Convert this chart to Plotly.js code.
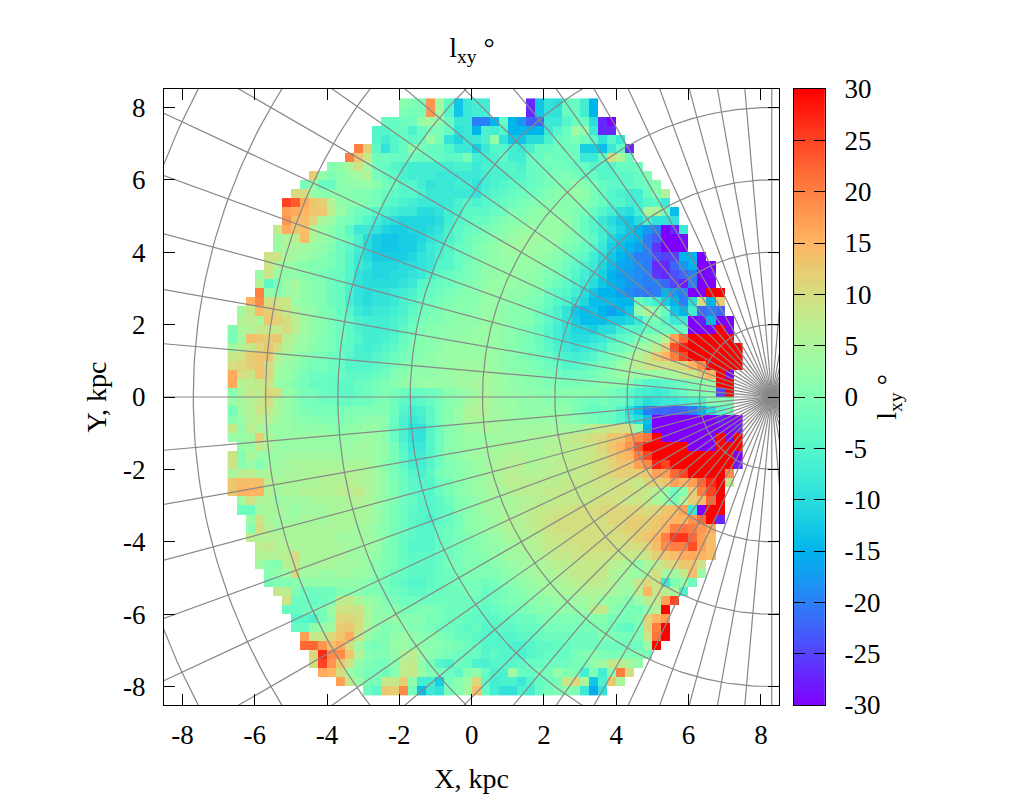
<!DOCTYPE html>
<html>
<head>
<meta charset="utf-8">
<script src="https://cdn.plot.ly/plotly-3.0.1.min.js"></script>
<style>
  html, body { margin: 0; padding: 0; background: #fff; }
  #chart { width: 1024px; height: 800px; }
</style>
</head>
<body>
<div id="chart"></div>
<script>
// Axis and colour bar ticks
const axisTicks = [-8, -6, -4, -2, 0, 2, 4, 6, 8];
const axisLabels = ["-8", "-6", "-4", "-2", "0", "2", "4", "6", "8"];
const barTicks = [-30, -25, -20, -15, -10, -5, 0, 5, 10, 15, 20, 25, 30];
const barLabels = ["-30", "-25", "-20", "-15", "-10", "-5", "0", "5", "10", "15", "20", "25", "30"];

// Polar grid around the Galactic centre
const centreX = 8.3;
const gridRadii = [2, 4, 6, 8, 10, 12, 14, 16, 18];
const gridAngleStep = 5;

// Cell layout of the map: 0.25 kpc bins
const cellSize = 0.25;
const firstCellX = -6.625;
const firstCellY = 8.125;
const columnCount = 57;

// First filled column of every row, top row first
const rowStart = [
  19, 19, 17, 16, 16, 14, 13, 11, 9, 8, 7, 6, 6, 6, 5, 5, 5, 4, 4, 3, 3, 3,
  2, 1, 1, 0, 0, 0, 0, 0, 0, 0, 0, 0, 0, 0, 0, 0, 1, 0, 0, 0, 0, 0,
  1, 1, 2, 2, 2, 3, 3, 3, 4, 4, 5, 6, 6, 7, 7, 8, 8, 9, 9, 10, 12, 15
];

// Mean l_xy per cell, degrees
const rowValues = [
  [1,0,-1,18,4,-4,-13,-8,-7,-7,null,null,null,null,-27,-13,-9,-10,-3,-3,-7,-15],
  [0,-1,-1,18,4,-5,-13,-8,-7,-7,null,null,null,null,-27,-13,-9,-9,-3,-3,-7,-15],
  [-3,-3,-2,-2,3,4,2,-3,-8,-8,-20,-20,-15,-3,-15,-18,-23,-22,-8,-8,-5,-3,-3,-10,-27,-30],
  [-5,-5,-3,-3,-6,-3,-1,-1,-3,-9,-8,-15,-6,-7,-5,-15,-15,-15,-15,-8,-5,-3,4,2,-8,-27,-27],
  [-5,-7,-5,-3,-4,-3,3,-1,-9,-11,-8,-8,-6,2,-9,-13,-13,-10,-10,-6,-3,-2,0,-2,-4,-9,-5,-8],
  [20,12,-4,-9,-5,-3,1,-1,-3,-3,-5,-8,-8,-12,-8,-5,-5,-7,-8,-6,-3,-3,-2,-2,-2,-12,-12,-14,-8,-4,-27],
  [20,13,8,-2,-2,-3,-3,-2,-3,-3,-3,-4,-4,-1,-7,-7,-6,-4,-7,-7,-3,-3,-1,-2,-2,-2,-8,-8,-4,10,5,-2],
  [1,2,5,9,4,-2,-3,-5,-6,-7,-7,-7,-7,-7,-6,-6,-8,-6,-6,-5,-5,-6,-3,-2,-2,-1,-2,-3,-3,-5,-5,-5,-3,-3,-2],
  [12,2,0,1,3,4,6,-1,-3,-4,-6,-7,-7,-7,-8,-8,-8,-8,-8,-7,-6,-6,-5,-5,-3,-2,-1,-1,0,-1,-3,-3,-5,-5,-4,-4,-3,0],
  [-1,2,-3,-3,1,2,2,3,1,-1,-3,-5,-5,-7,-9,-8,-8,-7,-7,-9,-7,-6,-5,-4,-4,-3,-2,-1,0,0,2,1,-1,-3,-4,-4,-4,-3,-2,1],
  [10,10,3,1,1,1,1,0,0,-1,-3,-4,-5,-5,-6,-8,-8,-8,-8,-8,-9,-6,-5,-4,-3,-2,-2,-1,0,1,2,3,2,-1,-3,-5,-6,-7,-7,-3,0,6],
  [25,23,16,13,12,6,2,1,1,0,-1,-4,-5,-6,-7,-8,-8,-8,-8,-6,-5,-6,-5,-4,-3,-2,-1,0,0,1,1,1,1,1,-1,-3,-5,-5,-7,-7,-5,-4,-8],
  [17,16,15,13,13,7,3,0,-2,-3,-5,-6,-7,-8,-8,-10,-10,-9,-7,-6,-4,-4,-4,-3,-2,0,0,1,2,2,2,1,0,-1,-3,-5,-7,-9,-10,-7,5,5,-2,-14],
  [18,14,14,11,5,3,0,-1,-3,-5,-7,-9,-10,-11,-11,-11,-11,-10,-7,-5,-4,-3,-3,-1,0,1,1,2,2,3,3,2,0,-3,-5,-8,-10,-12,-13,-10,-6,-9,-9,-9],
  [8,16,13,14,6,3,1,-1,-4,-8,-8,-9,-11,-12,-12,-11,-11,-10,-9,-6,-4,-3,-2,-1,0,1,2,3,3,3,3,3,2,0,-3,-5,-7,-9,-11,-13,-15,-18,-20,-30,-27,-8],
  [4,5,7,14,5,3,1,-1,-3,-6,-10,-12,-13,-13,-12,-12,-11,-9,-8,-6,-4,-2,-1,0,1,2,3,4,4,4,3,3,1,0,-2,-4,-7,-11,-13,-14,-15,-20,-23,-30,-30,-29],
  [3,5,5,4,3,2,0,-2,-4,-7,-10,-12,-13,-13,-12,-12,-10,-8,-7,-5,-3,-2,0,1,2,3,4,4,4,3,3,2,0,-1,-3,-5,-8,-12,-14,-15,-17,-20,-26,-30,-30,-30],
  [9,9,5,4,3,2,1,-1,-2,-5,-8,-10,-12,-12,-12,-12,-11,-9,-8,-6,-5,-3,-2,0,1,2,3,3,3,3,3,2,1,-1,-3,-4,-7,-10,-13,-15,-17,-20,-20,-24,-25,-25,-15,-15,-30],
  [9,5,3,2,1,0,0,-1,-2,-5,-8,-9,-11,-11,-11,-10,-10,-9,-8,-5,-5,-3,-1,0,2,2,3,3,3,3,2,1,0,-2,-4,-6,-8,-11,-14,-16,-17,-19,-20,-27,-27,-22,-18,-15,-30,-30],
  [3,9,3,2,2,1,0,-1,-2,-3,-5,-9,-10,-11,-11,-10,-10,-9,-8,-6,-4,-3,-2,-1,0,2,2,3,3,3,2,1,0,-1,-3,-5,-7,-9,-12,-15,-17,-18,-19,-20,-26,-27,-24,-22,-20,-30,-29],
  [6,-4,-1,3,5,2,1,0,-2,-3,-6,-9,-10,-10,-10,-10,-9,-8,-5,-4,-3,-2,-1,0,1,2,3,3,3,2,2,1,-1,-2,-4,-6,-8,-10,-13,-15,-16,-18,-19,-20,-20,-22,-25,-28,-20,-30,-30],
  [20,2,1,3,4,2,1,0,-2,-3,-6,-9,-10,-9,-9,-8,-7,-6,-4,-3,-2,-1,0,1,1,3,3,3,2,2,1,0,-2,-4,-5,-7,-10,-13,-15,-15,-17,-19,-20,-21,-20,-15,-18,-20,-30,-30,30,30],
  [15,19,10,9,9,3,2,1,0,-2,-3,-7,-9,-10,-9,-9,-8,-6,-5,-3,-2,-1,0,1,1,1,3,3,2,2,1,0,-1,-3,-5,-6,-9,-11,-14,-14,-14,-15,-15,-2,-5,-7,-12,-15,-20,-10,10,-15,12],
  [4,8,14,12,11,8,5,3,2,0,-1,-3,-5,-8,-9,-8,-8,-7,-6,-4,-2,-1,0,1,1,1,2,3,3,2,1,1,0,-2,-4,-6,-9,-13,-14,-13,-15,-17,-15,-13,2,6,1,-3,-13,-15,-7,-22,-20,-22],
  [6,7,5,13,12,10,7,4,2,1,-1,-2,-4,-6,-7,-7,-7,-6,-5,-3,-1,0,0,1,2,2,2,3,3,2,1,1,0,-2,-4,-6,-9,-12,-14,-14,-14,-12,-12,-11,-8,-2,-1,-5,-8,-8,-30,-28,-15,-30,-30],
  [0,5,6,8,8,8,10,7,4,2,1,-1,-2,-4,-6,-7,-7,-7,-6,-4,-2,0,1,1,2,2,2,3,3,3,2,1,0,-1,-3,-5,-7,-9,-11,-11,-12,-10,-10,-7,-5,-5,-3,-2,-2,-3,-3,-30,-30,-30,30,-30],
  [-1,4,14,13,12,13,7,5,3,2,0,-1,-2,-4,-5,-7,-7,-6,-5,-3,-1,1,1,2,2,3,3,3,3,3,2,1,0,-1,-3,-5,-7,-9,-10,-10,-9,-8,-6,-4,-3,-1,1,2,6,17,22,30,30,30,30,30],
  [4,6,8,11,13,10,6,4,3,1,0,-1,-3,-4,-6,-7,-6,-5,-4,-2,0,1,1,2,3,3,3,3,3,3,2,1,0,-1,-2,-4,-6,-8,-9,-8,-7,-6,-3,-2,0,3,4,7,12,24,28,30,30,30,30,30,30],
  [8,9,12,13,13,6,4,3,1,0,-1,-2,-3,-5,-6,-6,-5,-4,-2,-1,0,1,2,3,3,3,3,3,4,3,2,1,0,-1,-2,-3,-5,-6,-7,-6,-5,-3,-1,0,3,6,8,12,15,20,25,30,30,30,30,30,30],
  [10,11,12,13,10,5,3,2,0,-1,-1,-2,-3,-5,-5,-5,-4,-3,-1,0,1,2,2,3,3,4,4,4,4,3,2,1,1,0,-1,-2,-3,-5,-5,-4,-3,-1,0,3,5,7,9,9,9,10,11,15,19,30,30,30,30],
  [16,10,9,13,11,4,3,1,-1,-2,-2,-3,-3,-4,-4,-4,-3,-2,0,1,2,2,2,3,3,4,4,4,5,4,3,2,1,1,0,-1,-2,-3,-2,-2,-1,0,1,3,4,2,3,3,4,5,8,8,12,15,30,-30],
  [16,6,7,8,9,3,2,0,-1,-3,-3,-3,-4,-4,-3,-2,-1,0,1,2,2,3,3,3,3,4,4,5,5,4,3,2,2,1,1,0,0,-1,-1,0,0,1,1,1,0,-3,-5,-5,-4,-3,-2,0,1,3,30,30],
  [1,5,8,7,11,10,3,1,-1,-1,-2,-3,-4,-4,-3,-2,-1,0,-1,-2,-3,-3,-2,-1,1,2,3,4,5,4,3,3,2,2,1,1,1,1,1,1,1,0,-1,-2,-4,-6,-7,-8,-7,-5,-3,-1,0,1,-25,30],
  [3,5,6,8,10,5,3,1,-1,-1,-2,-2,-3,-3,-2,-2,-1,0,-2,-4,-5,-4,-3,-1,1,2,4,5,6,4,3,3,2,2,2,1,1,1,0,-1,-2,-1,-2,-2,-5,-8,-10,-9,-8,-8,-7,-6,-6,0,0,0],
  [-1,4,6,9,8,5,3,1,0,-1,-1,-1,-1,0,0,0,0,0,-2,-5,-7,-6,-4,-1,1,3,5,6,6,4,4,3,2,2,2,2,2,2,0,-2,-3,-3,-2,-5,-10,-14,-20,-22,-22,-23,-22,-20,-15,-10,-5,-2],
  [1,3,6,7,6,4,3,2,1,1,0,0,0,1,1,2,2,1,-3,-6,-8,-7,-4,-1,1,3,5,5,5,4,4,3,3,3,3,3,3,2,1,0,-1,-2,-3,-5,-8,-10,-14,-30,-30,-30,-30,-30,-30,-30,-28,-30,-30],
  [8,2,7,5,4,3,3,2,2,2,2,1,1,2,2,3,3,1,-3,-6,-9,-9,-5,-2,1,2,4,4,5,5,4,4,4,4,4,4,4,4,4,5,7,8,9,10,9,2,-15,-30,-30,-30,-30,-30,-30,-30,-30,-30,-28],
  [3,3,4,12,5,3,3,3,3,3,3,3,2,3,3,4,3,1,-3,-6,-9,-9,-5,-2,1,2,3,3,3,4,4,4,4,5,5,5,6,7,8,9,10,11,13,13,17,19,21,30,-30,-30,-30,-30,-30,-30,30,-30,30],
  [2,3,8,5,3,3,3,3,3,3,3,3,3,4,4,3,2,-1,-5,-8,-8,-5,-2,1,2,3,3,4,4,5,5,5,5,5,6,6,7,7,8,9,11,13,15,18,24,30,30,30,30,30,-30,-30,-30,30,30,30],
  [9,0,5,3,3,3,4,4,4,4,4,4,4,4,4,4,3,2,-1,-4,-7,-7,-5,-2,1,2,3,4,4,5,5,6,6,5,5,6,6,7,7,8,9,10,12,14,15,20,25,30,30,30,30,30,30,30,30,30,-30],
  [9,1,3,0,3,4,4,5,5,5,5,5,5,5,5,5,3,1,-1,-4,-7,-7,-5,-2,0,1,2,3,4,5,6,6,7,5,6,6,7,7,8,8,9,10,11,13,13,17,19,28,25,30,30,30,30,30,30,30,-28],
  [5,7,7,5,5,4,5,5,5,5,6,6,6,6,6,5,4,2,-1,-3,-5,-6,-4,-1,0,1,2,3,4,5,6,7,6,6,6,7,7,7,8,8,9,10,11,12,12,12,13,17,17,22,25,30,30,30,30,19],
  [13,14,14,14,7,5,5,5,5,5,6,6,6,7,6,5,4,2,0,-2,-4,-5,-5,-2,-1,1,2,3,4,5,6,7,7,7,7,7,7,8,8,8,9,9,9,10,9,8,11,12,13,17,15,17,22,27,30,8],
  [13,15,15,15,6,4,5,5,6,6,6,6,7,7,8,6,4,2,0,-2,-4,-5,-5,-3,-1,1,2,3,4,5,5,6,7,7,7,8,8,8,8,8,8,9,9,10,10,9,8,6,3,-2,1,12,20,25,30],
  [4,9,6,5,3,4,4,4,5,5,5,5,6,6,5,4,2,0,-2,-3,-5,-5,-4,-2,0,1,2,4,4,5,5,6,6,7,7,8,8,8,8,9,10,10,9,8,9,8,5,3,-1,6,12,14,22,30],
  [-2,-2,4,5,5,4,3,4,4,4,5,5,5,5,5,3,1,-1,-2,-4,-5,-5,-4,-3,0,1,2,4,4,5,5,6,7,8,8,9,9,10,10,10,11,11,11,11,11,10,11,13,14,17,-8,-30,30,30],
  [3,9,5,4,4,4,5,5,4,5,5,5,5,5,3,1,-1,-2,-4,-5,-6,-4,-3,-1,1,2,3,4,5,6,6,7,8,9,10,10,10,10,10,10,11,11,12,12,12,13,14,15,15,18,22,30,-27],
  [1,10,6,4,5,5,5,5,5,5,5,5,4,4,2,1,-1,-2,-4,-5,-5,-3,-2,-1,1,2,3,4,5,6,6,7,8,9,10,10,10,10,10,10,10,11,12,12,12,13,15,20,21,20,18,16],
  [7,6,6,6,5,5,5,5,5,5,4,4,4,4,3,1,-1,-3,-4,-5,-5,-3,-2,-1,0,1,2,3,4,5,5,6,7,8,9,9,10,10,10,10,10,10,11,12,13,15,20,26,26,22,17,14],
  [7,8,6,6,5,5,5,5,5,5,4,4,4,3,0,-1,-3,-5,-5,-5,-3,-2,-1,0,1,2,2,3,4,5,6,7,8,8,9,9,10,10,10,10,9,10,10,11,14,19,20,20,24,17,14],
  [6,6,6,7,10,5,5,5,5,5,4,4,3,2,0,-1,-3,-4,-4,-4,-3,-2,-1,0,0,1,2,3,4,4,5,6,7,8,8,9,9,9,9,9,8,8,8,9,12,13,14,16,16,15,14],
  [4,1,0,6,9,5,5,5,5,4,4,4,3,1,0,-1,-3,-4,-4,-4,-3,-1,-1,0,0,0,1,2,3,4,4,5,6,7,7,8,8,8,8,7,6,5,2,5,7,10,11,13,13,9],
  [1,2,3,10,4,4,3,3,4,4,3,3,1,-1,-2,-3,-4,-4,-4,-3,-2,-1,0,0,0,0,1,2,3,4,5,5,6,7,8,8,8,8,6,5,4,3,5,10,4,4,8,14,3],
  [-1,0,0,1,2,2,2,2,2,2,2,1,0,-1,-3,-4,-5,-5,-4,-3,-2,-1,-1,-1,-2,-1,0,1,2,3,4,4,5,6,7,7,8,7,6,4,4,8,11,9,-8,0,2,-2],
  [8,7,0,-2,-2,-2,-2,0,1,1,0,0,-1,-2,-3,-4,-4,-3,-3,-2,-2,-1,-1,-3,-2,-1,0,1,2,3,4,4,5,5,6,6,6,5,4,3,7,15,9,7,5,-6],
  [9,-2,-3,-3,-2,-1,7,8,5,3,2,0,-1,-2,-2,-2,-2,-2,-2,-2,-2,-2,-3,-2,-1,0,0,1,2,2,3,3,4,4,5,3,2,2,0,3,7,8,17,25],
  [-3,-3,-2,-2,-1,4,9,9,9,5,2,1,1,-1,-1,0,0,-1,-2,-2,-2,-3,-4,-3,-2,-1,-1,0,1,1,2,2,2,3,7,8,2,0,-1,-1,2,6,30],
  [-5,-5,-6,-1,2,11,11,10,5,2,2,3,1,1,1,-1,-1,-2,-2,-3,-4,-4,-4,-3,-3,-2,-2,-1,0,0,0,0,1,1,1,-1,-1,-1,0,11,15,17],
  [-3,-3,2,3,4,12,13,10,5,2,0,1,1,0,0,-1,-2,-2,-3,-4,-3,-5,-5,-4,-4,-3,-3,-2,-1,-1,-1,-1,-1,-1,0,-1,-3,-4,-1,11,20,30],
  [17,8,8,11,13,16,9,3,1,0,2,3,2,1,1,0,-1,-3,-3,-4,-5,-5,-5,-5,-4,-4,-3,-2,-2,-2,-2,-2,-2,0,0,-1,-1,0,9,21,30],
  [22,22,18,14,16,10,4,0,-1,0,3,3,2,2,1,1,0,-1,-2,-3,-5,-5,-5,-6,-6,-5,-4,-4,-3,-3,-2,-2,-2,-2,-2,-2,-2,-2,3,30],
  [11,27,19,19,13,6,1,0,0,2,5,7,3,1,0,-1,-2,-3,-3,-5,-4,-5,-5,-6,-5,-4,-3,-3,-3,-1,0,1,0,-1,0,0,0,-1],
  [10,25,18,13,9,2,0,-1,-1,1,7,8,2,-1,-5,-6,-2,-3,-6,-6,-5,-5,-5,-4,-3,-3,-2,-2,-2,-1,-1,2,4,8,7,5,2],
  [16,15,10,3,1,-1,-1,-2,1,7,8,3,0,-1,-2,-4,0,2,-3,-6,-6,4,-3,-3,-1,-1,3,0,0,-7,0,-7,1,20,10],
  [17,8,3,-1,-1,8,8,12,2,-7,-7,-12,-1,1,3,11,-4,-7,-6,-6,-8,-5,-3,-2,-1,8,11,5,-13,-6,13,5],
  [-2,-4,13,12,19,-1,-14,-8,-9,-1,1,4,14,-3,-7,-9,-9,-6,-7,-3,-1,0,1,0,-8,-16,-9]
];

// gnuplot palette rgbformulae 33,13,10
function paletteStops(count) {
  const stops = [];
  for (let i = 0; i <= count; i++) {
    const t = i / count;
    const r = Math.min(1, Math.abs(2 * t - 0.5));
    const g = Math.sin(Math.PI * t);
    const b = Math.cos(Math.PI * t / 2);
    const rgb = [r, g, b].map((v) => Math.round(255 * Math.max(0, v)));
    stops.push([t, "rgb(" + rgb.join(",") + ")"]);
  }
  return stops;
}

function buildGrid() {
  const z = rowValues.map((values, r) => {
    const row = new Array(columnCount).fill(null);
    values.forEach((v, i) => { row[rowStart[r] + i] = v; });
    return row;
  });
  const x = z[0].map((_, c) => firstCellX + c * cellSize);
  const y = z.map((_, r) => firstCellY - r * cellSize);
  return { x, y, z };
}

// Circles and spokes of the polar grid, split by nulls
function polarGrid() {
  const xs = [];
  const ys = [];
  gridRadii.forEach((radius) => {
    for (let a = 0; a <= 360; a += 1) {
      const t = a * Math.PI / 180;
      xs.push(centreX + radius * Math.cos(t));
      ys.push(radius * Math.sin(t));
    }
    xs.push(null);
    ys.push(null);
  });
  const reach = gridRadii[gridRadii.length - 1] + 4;
  for (let a = 0; a < 360; a += gridAngleStep) {
    const t = a * Math.PI / 180;
    xs.push(centreX, centreX + reach * Math.cos(t), null);
    ys.push(0, reach * Math.sin(t), null);
  }
  return { xs, ys };
}

// Colour bar as its own little heatmap, so it can carry ticks on both sides
function barStrip() {
  const edges = [];
  const z = [];
  for (let v = -30; v <= 30; v += 0.25) edges.push(v);
  for (let i = 0; i < edges.length - 1; i++) z.push([edges[i] + 0.125]);
  return { edges, z };
}

const FONT = "Liberation Serif, Times New Roman, serif";
const TICK_SIZE = 27;
const TITLE_SIZE = 28;

// Pixel layout: plot frame 616 px square, bar 31 px wide
const plotLeft = 163.5;
const plotRight = 825.2;
const mapRight = 779.5;
const barLeft = 794;
const plotWidth = plotRight - plotLeft;

const grid = buildGrid();
const spokes = polarGrid();
const strip = barStrip();
const scale = paletteStops(48);

const axisStyle = {
  tickmode: "array",
  tickvals: axisTicks,
  ticktext: axisLabels,
  ticks: "inside",
  ticklen: 11,
  tickwidth: 1,
  tickcolor: "#000",
  showline: true,
  linecolor: "#000",
  linewidth: 1,
  mirror: "ticks",
  showgrid: false,
  zeroline: false,
  range: [-8.51, 8.51],
  tickfont: { family: FONT, size: TICK_SIZE, color: "#000" },
};

Plotly.newPlot(
  "chart",
  [
    {
      type: "heatmap",
      x: grid.x,
      y: grid.y,
      z: grid.z,
      zmin: -30,
      zmax: 30,
      colorscale: scale,
      showscale: false,
      hoverongaps: false,
    },
    {
      type: "scatter",
      mode: "lines",
      x: spokes.xs,
      y: spokes.ys,
      line: { color: "#888888", width: 1.2 },
      hoverinfo: "skip",
      showlegend: false,
    },
    {
      type: "heatmap",
      xaxis: "x2",
      yaxis: "y2",
      x: [0, 1],
      y: strip.edges,
      z: strip.z,
      zmin: -30,
      zmax: 30,
      colorscale: scale,
      showscale: false,
      hoverinfo: "skip",
    },
  ],
  {
    width: 1024,
    height: 800,
    margin: { l: plotLeft, r: 1024 - plotRight, t: 89.3, b: 94.7, pad: 0 },
    paper_bgcolor: "#fff",
    plot_bgcolor: "#fff",
    showlegend: false,
    font: { family: FONT, size: TICK_SIZE, color: "#000" },
    title: {
      text: "l<sub>xy</sub> °",
      x: 472 / 1024,
      xanchor: "center",
      y: 1 - 47 / 800,
      yanchor: "middle",
      font: { family: FONT, size: TITLE_SIZE, color: "#000" },
    },
    xaxis: Object.assign({}, axisStyle, {
      domain: [0, (mapRight - plotLeft) / plotWidth],
      anchor: "y",
      ticklabelstandoff: 6,
      title: { text: "X, kpc", standoff: 18, font: { family: FONT, size: TITLE_SIZE, color: "#000" } },
    }),
    yaxis: Object.assign({}, axisStyle, {
      anchor: "x",
      ticklabelstandoff: 12,
      title: { text: "Y, kpc", standoff: 8, font: { family: FONT, size: TITLE_SIZE, color: "#000" } },
    }),
    xaxis2: {
      domain: [(barLeft - plotLeft) / plotWidth, 1],
      anchor: "y2",
      range: [0, 1],
      showticklabels: false,
      ticks: "",
      showgrid: false,
      zeroline: false,
      showline: true,
      linecolor: "#000",
      linewidth: 1,
      mirror: true,
    },
    yaxis2: {
      domain: [0, 1],
      anchor: "x2",
      side: "right",
      range: [-30, 30],
      tickmode: "array",
      tickvals: barTicks,
      ticktext: barLabels,
      ticks: "inside",
      ticklen: 11,
      tickwidth: 1,
      tickcolor: "#000",
      showgrid: false,
      zeroline: false,
      showline: true,
      linecolor: "#000",
      linewidth: 1,
      mirror: "ticks",
      ticklabelstandoff: 13,
      tickfont: { family: FONT, size: TICK_SIZE, color: "#000" },
    },
    annotations: [
      {
        text: "l<sub>xy</sub> °",
        xref: "paper",
        yref: "paper",
        x: (888 - plotLeft) / plotWidth,
        xanchor: "center",
        y: 0.5,
        yanchor: "middle",
        textangle: -90,
        showarrow: false,
        font: { family: FONT, size: TITLE_SIZE, color: "#000" },
      },
    ],
  },
  { displayModeBar: false, responsive: false }
);
</script>
</body>
</html>
